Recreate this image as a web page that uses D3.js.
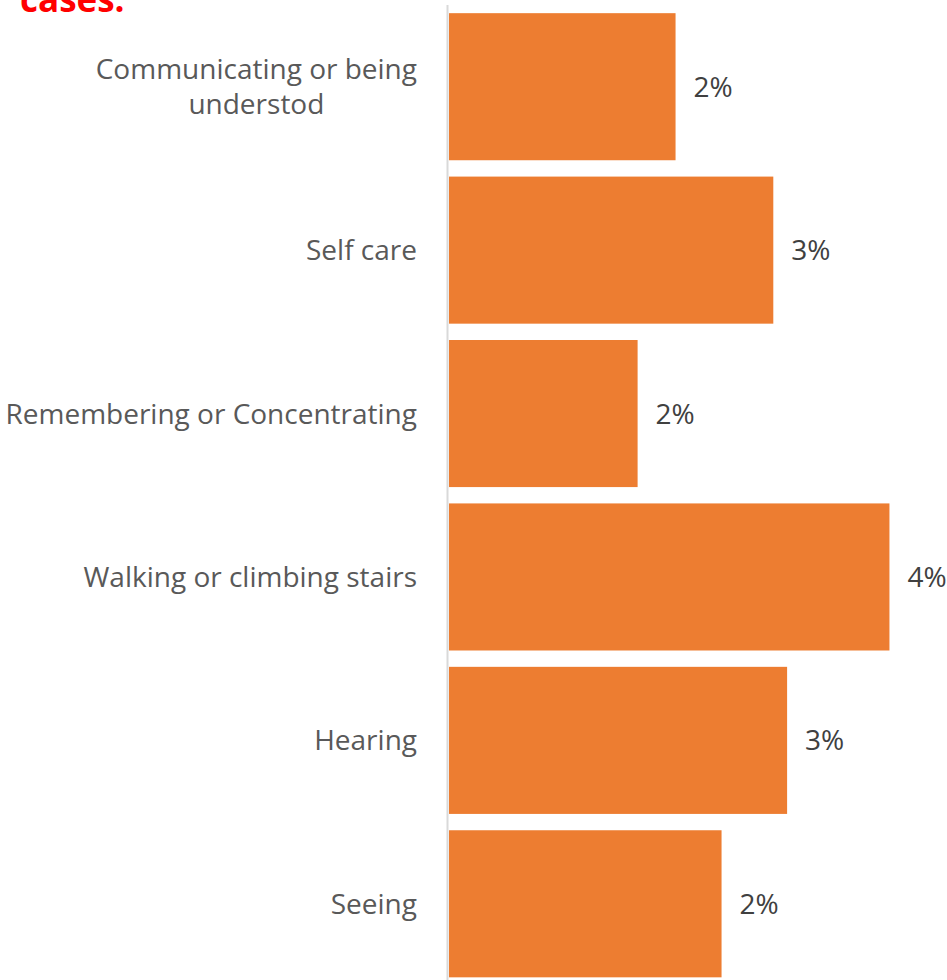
<!DOCTYPE html>
<html>
<head>
<meta charset="utf-8">
<script src="https://cdn.jsdelivr.net/npm/d3@7"></script>
<style>
  html, body { margin: 0; padding: 0; background: #fff; }
  svg { display: block; }
</style>
</head>
<body>
<svg id="chart" width="947" height="980"></svg>
<script>
// Share of respondents reporting each type of difficulty
const categories = [
  ["Communicating or being", "understod"],
  ["Self care"],
  ["Remembering or Concentrating"],
  ["Walking or climbing stairs"],
  ["Hearing"],
  ["Seeing"]
];
const values = [0.0197, 0.0282, 0.0164, 0.0383, 0.0294, 0.0237];
const titleText = "cases.";

const W = 947, H = 980;
const FONT = "'Open Sans', sans-serif";
const FS = 28;
const svg = d3.select("#chart");

const x = d3.scaleLinear().domain([0, 0.04]).range([449, 909]);
const y = d3.scaleBand()
  .domain(d3.range(categories.length))
  .range([5, 985.5])
  .paddingInner(0.1)
  .paddingOuter(0.05);

const fmt = d3.format(".0%");

// title (partly above the visible area)
svg.append("text")
  .attr("x", 20).attr("y", 12)
  .attr("font-family", FONT)
  .attr("font-weight", 700)
  .attr("font-size", 35)
  .attr("fill", "#ff0000")
  .text(titleText);

// bars
svg.append("g").selectAll("rect")
  .data(values)
  .join("rect")
  .attr("x", x(0))
  .attr("y", (d, i) => y(i))
  .attr("width", d => x(d) - x(0))
  .attr("height", y.bandwidth())
  .attr("fill", "#ed7d31");

// category axis line
svg.append("line")
  .attr("x1", 447.5).attr("x2", 447.5)
  .attr("y1", 5).attr("y2", H)
  .attr("stroke", "#d9d9d9")
  .attr("stroke-width", 2);

// category labels
const labelRight = 417;
const lineH = 35;
categories.forEach((lines, i) => {
  const cy = y(i) + y.bandwidth() / 2;
  const t = svg.append("text")
    .attr("font-family", FONT)
    .attr("font-size", FS)
    .attr("fill", "#595959");
  const spans = lines.map((s, k) => t.append("tspan")
    .attr("dy", k === 0 ? "0.36em" : lineH)
    .text(s));
  if (lines.length === 1) {
    t.attr("text-anchor", "end");
    spans[0].attr("x", labelRight).attr("y", cy);
  } else {
    const maxW = d3.max(spans, s => s.node().getComputedTextLength());
    const cx = labelRight - maxW / 2;
    t.attr("text-anchor", "middle");
    spans.forEach(s => s.attr("x", cx));
    spans[0].attr("y", cy - lineH * (lines.length - 1) / 2);
  }
});

// value labels
svg.append("g").selectAll("text")
  .data(values)
  .join("text")
  .attr("x", d => x(d) + 18)
  .attr("y", (d, i) => y(i) + y.bandwidth() / 2)
  .attr("dy", "0.36em")
  .attr("font-family", FONT)
  .attr("font-size", FS)
  .attr("fill", "#404040")
  .text(d => fmt(d));
</script>
</body>
</html>
